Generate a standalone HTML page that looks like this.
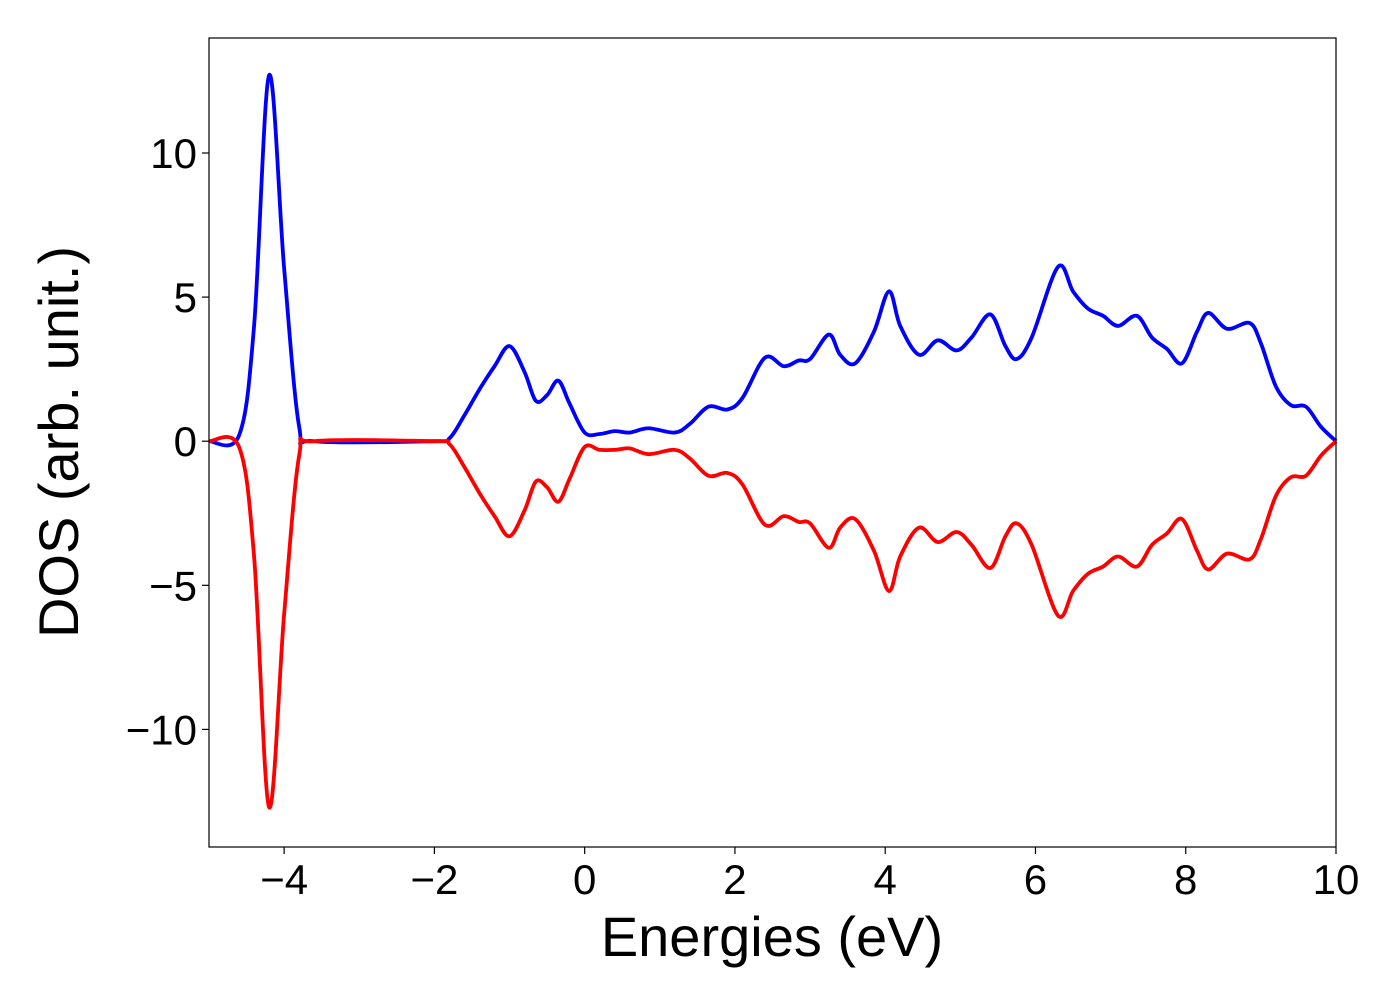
<!DOCTYPE html>
<html><head><meta charset="utf-8"><style>
html,body{margin:0;padding:0;background:#fff;}
svg text{font-family:"Liberation Sans","DejaVu Sans",sans-serif;fill:#000;}
</style></head><body>
<svg id="chart" width="1400" height="1000" viewBox="0 0 1400 1000" xmlns="http://www.w3.org/2000/svg">
<rect width="1400" height="1000" fill="#fff"/>
<g id="ticks"></g>
<g id="series"></g>
<rect x="209" y="38" width="1127" height="809" fill="none" stroke="#000" stroke-width="1.2"/>
<text x="772" y="956" font-size="56" text-anchor="middle">Energies (eV)</text>
<text transform="translate(78,442) rotate(-90)" font-size="56" text-anchor="middle">DOS (arb. unit.)</text>
</svg>
<script>
const energies = [-5,-4.6,-4.4,-4.2,-4.0,-3.8,-3.6,-2,-1.8,-1.6,-1.4,-1.2,-1.0,-0.8,-0.65,-0.5,-0.35,-0.2,0,0.2,0.4,0.6,0.85,1.2,1.4,1.65,1.9,2.1,2.4,2.65,2.85,3.0,3.25,3.4,3.6,3.85,4.05,4.2,4.45,4.7,4.95,5.15,5.4,5.6,5.75,5.95,6.3,6.5,6.7,6.9,7.1,7.35,7.55,7.75,7.95,8.15,8.3,8.55,8.85,9.0,9.2,9.4,9.6,9.8,10];
const spinUp = [0,0.2,4,12.7,6,0.5,0,0,0.1,0.9,1.8,2.6,3.3,2.4,1.4,1.6,2.1,1.3,0.3,0.25,0.35,0.3,0.45,0.3,0.6,1.2,1.1,1.5,2.9,2.6,2.8,2.85,3.7,3.0,2.7,3.8,5.2,4.0,3.0,3.5,3.15,3.6,4.4,3.3,2.85,3.6,6.05,5.2,4.6,4.35,4.0,4.35,3.6,3.2,2.7,3.8,4.45,3.9,4.1,3.4,1.9,1.25,1.2,0.5,0];
const spinDown = [0,-0.2,-4,-12.7,-6,-0.5,0,0,-0.1,-0.9,-1.8,-2.6,-3.3,-2.4,-1.4,-1.6,-2.1,-1.3,-0.2,-0.3,-0.3,-0.25,-0.45,-0.3,-0.6,-1.2,-1.1,-1.5,-2.9,-2.6,-2.8,-2.85,-3.7,-3.0,-2.7,-3.8,-5.2,-4.0,-3.0,-3.5,-3.15,-3.6,-4.4,-3.3,-2.85,-3.6,-6.05,-5.2,-4.6,-4.35,-4.0,-4.35,-3.6,-3.2,-2.7,-3.8,-4.45,-3.9,-4.1,-3.4,-1.9,-1.25,-1.2,-0.5,0];
const xTicks = [-4,-2,0,2,4,6,8,10];
const xTickLabels = ["\u22124","\u22122","0","2","4","6","8","10"];
const yTicks = [-10,-5,0,5,10];
const yTickLabels = ["\u221210","\u22125","0","5","10"];

const X0=209,X1=1336,Y0=38,Y1=847,xmin=-5,xmax=10,ymin=-14.08,ymax=13.99;
const sx=v=>X0+(v-xmin)/(xmax-xmin)*(X1-X0);
const sy=v=>Y1-(v-ymin)/(ymax-ymin)*(Y1-Y0);
const NS="http://www.w3.org/2000/svg";
const tg=document.getElementById('ticks');
xTicks.forEach((t,i)=>{
  const l=document.createElementNS(NS,'line');
  
  
  l.setAttribute('x1',sx(t));l.setAttribute('x2',sx(t));l.setAttribute('y1',Y1);l.setAttribute('y2',Y1+7);
  l.setAttribute('stroke','#000');l.setAttribute('stroke-width','1.2');tg.appendChild(l);
  const tx=document.createElementNS(NS,'text');
  
  
  tx.setAttribute('x',sx(t));tx.setAttribute('y',894);tx.setAttribute('font-size','42');tx.setAttribute('text-anchor','middle');
  tx.textContent=xTickLabels[i];tg.appendChild(tx);
});
yTicks.forEach((t,i)=>{
  const l=document.createElementNS(NS,'line');
  
  
  l.setAttribute('x1',X0-7);l.setAttribute('x2',X0);l.setAttribute('y1',sy(t));l.setAttribute('y2',sy(t));
  l.setAttribute('stroke','#000');l.setAttribute('stroke-width','1.2');tg.appendChild(l);
  const tx=document.createElementNS(NS,'text');
  
  
  tx.setAttribute('x',197);tx.setAttribute('y',sy(t)+15);tx.setAttribute('font-size','42');tx.setAttribute('text-anchor','end');
  tx.textContent=yTickLabels[i];tg.appendChild(tx);
});
function pathFor(xs,ys){
  const p=xs.map((x,i)=>[sx(x),sy(ys[i])]);
  let d='M'+p[0][0]+','+p[0][1];
  for(let i=0;i<p.length-1;i++){
    const a=p[Math.max(i-1,0)],b=p[i],c=p[i+1],e=p[Math.min(i+2,p.length-1)];
    const c1=[b[0]+(c[0]-a[0])/6,b[1]+(c[1]-a[1])/6];
    const c2=[c[0]-(e[0]-b[0])/6,c[1]-(e[1]-b[1])/6];
    d+=' C'+c1[0]+','+c1[1]+' '+c2[0]+','+c2[1]+' '+c[0]+','+c[1];
  }
  return d;
}
const sg=document.getElementById('series');
const up=document.createElementNS(NS,'path');


up.setAttribute('d',pathFor(energies,spinUp));up.setAttribute('fill','none');up.setAttribute('stroke','#0000ff');up.setAttribute('stroke-width','3.8');up.setAttribute('stroke-linejoin','round');
sg.appendChild(up);
const dn=document.createElementNS(NS,'path');


dn.setAttribute('d',pathFor(energies,spinDown));dn.setAttribute('fill','none');dn.setAttribute('stroke','#ff0000');dn.setAttribute('stroke-width','3.8');dn.setAttribute('stroke-linejoin','round');
sg.appendChild(dn);
</script>
</body></html>
